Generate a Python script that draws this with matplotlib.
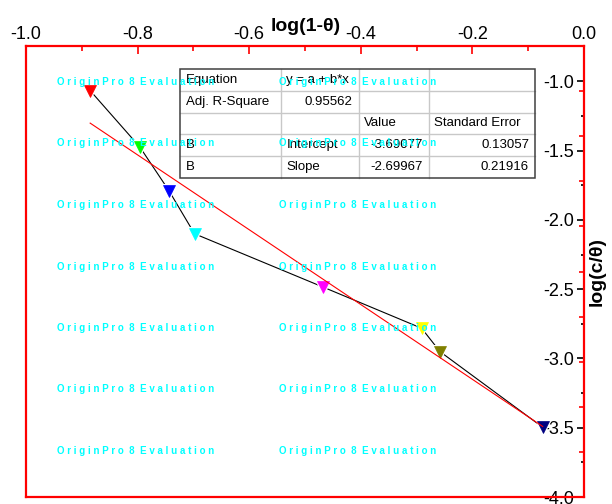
import numpy as np
import matplotlib
matplotlib.use("Agg")
import matplotlib.pyplot as plt
from matplotlib.patches import Rectangle
from matplotlib.lines import Line2D

plt.rcParams['font.family'] = ['Liberation Sans', 'DejaVu Sans']
plt.rcParams['axes.unicode_minus'] = False

# ---- data ----
x_vals = [-0.885, -0.796, -0.744, -0.698, -0.467, -0.291, -0.258, -0.074]
y_vals = [-1.067, -1.474, -1.788, -2.100, -2.486, -2.782, -2.951, -3.497]
pt_colors = ['#FF0000', '#00FF00', '#0000FF', '#00FFFF', '#FF00FF', '#FFFF00', '#808000', '#000080']
fit_a = -3.69077
fit_b = -2.69967
x_major = [-1.0, -0.8, -0.6, -0.4, -0.2, 0.0]
x_minor = [-0.9, -0.7, -0.5, -0.3, -0.1]
y_major = [-1.0, -1.5, -2.0, -2.5, -3.0, -3.5, -4.0]
y_minor = [-1.25, -1.75, -2.25, -2.75, -3.25, -3.75]
x_label = 'log(1-θ)'
y_label = 'log(c/θ)'
table_rows = [
    ['Equation', 'y = a + b*x', '', ''],
    ['Adj. R-Square', '0.95562', '', ''],
    ['', '', 'Value', 'Standard Error'],
    ['B', 'Intercept', '-3.69077', '0.13057'],
    ['B', 'Slope', '-2.69967', '0.21916'],
]
table_align = [
    ['left', 'left', 'left', 'left'],
    ['left', 'right', 'left', 'left'],
    ['left', 'left', 'left', 'left'],
    ['left', 'left', 'right', 'right'],
    ['left', 'left', 'right', 'right'],
]
watermark = 'O r i g i n P r o  8  E v a l u a t i o n'

W, H = 612, 504
fig = plt.figure(figsize=(W / 100, H / 100), dpi=100)
L, R, T, B = 26, 584, 46, 497
ax = fig.add_axes([L / W, 1 - B / H, (R - L) / W, (B - T) / H])

# secondary red ticks (frame layer)
ax2 = ax.twinx()
ax2.set_ylim(0, 1)
ax2.set_yticks(np.linspace(0.1, 0.9, 9))
ax2.tick_params(axis='y', direction='in', color='red', length=3.5, width=1.2,
                labelright=False, right=True)
for s in ax2.spines.values():
    s.set_visible(False)

# data
ax.plot(x_vals, y_vals, color='black', lw=0.8, zorder=2)
for xv, yv, c in zip(x_vals, y_vals, pt_colors):
    ax.plot([xv], [yv], marker='v', ms=9, color=c, mec='white', mew=2.2,
            linestyle='none', zorder=3)
    ax.plot([xv], [yv], marker='v', ms=9, color=c, mec=c, mew=0.5,
            linestyle='none', zorder=3.5)
fx = np.array([min(x_vals), max(x_vals)])
ax.plot(fx, fit_a + fit_b * fx, color='red', lw=0.8, zorder=4)

ax.set_xlim(-1.0, 0.0)
ax.set_ylim(-4.0, -0.745)

# x axis on top
ax.xaxis.tick_top()
ax.set_xticks(x_major)
ax.set_xticks(x_minor, minor=True)
ax.set_xticklabels(['%.1f' % v for v in x_major])
ax.tick_params(axis='x', which='major', direction='in', color='red', length=6,
               width=1.2, labelsize=13, pad=2.5, labelcolor='black')
ax.tick_params(axis='x', which='minor', direction='in', color='red', length=3.5,
               width=1.2)

# y axis on right, labels inside
ax.yaxis.tick_right()
ax.set_yticks(y_major)
ax.set_yticks(y_minor, minor=True)
ax.set_yticklabels(['%.1f' % v for v in y_major])
ax.tick_params(axis='y', which='major', direction='in', color='black', length=5,
               width=1.2, labelsize=13, pad=-7.0, left=False, right=True)
ax.tick_params(axis='y', which='minor', direction='in', color='black', length=2.5,
               width=1.2, left=False, right=True)
for lbl in ax.get_yticklabels():
    lbl.set_horizontalalignment('right')

for s in ax.spines.values():
    s.set_color('red')
    s.set_linewidth(1.6)

# axis titles
fig.text(306 / W, 1 - 31 / H, x_label, ha='center', va='baseline',
         fontsize=14, fontweight='bold')
fig.text(597 / W, 1 - 272 / H, y_label, ha='center', va='center', rotation=90,
         fontsize=14, fontweight='bold')

# table
tx0, ty0 = 180, 69
col_w = [101, 77.5, 70, 106.5]
row_h = 21.8
tw = sum(col_w)
th = row_h * len(table_rows)
fig.patches.append(Rectangle((tx0 / W, 1 - (ty0 + th) / H), tw / W, th / H,
                             transform=fig.transFigure, facecolor='white',
                             edgecolor='none', zorder=1))
cx = np.concatenate([[0], np.cumsum(col_w)]) + tx0
for xb in cx[1:-1]:
    fig.lines.append(Line2D([xb / W, xb / W], [1 - ty0 / H, 1 - (ty0 + th) / H],
                            transform=fig.transFigure, color='#c8c8c8', lw=1, zorder=1.5))
for i in range(1, len(table_rows)):
    yb = ty0 + i * row_h
    fig.lines.append(Line2D([tx0 / W, (tx0 + tw) / W], [1 - yb / H, 1 - yb / H],
                            transform=fig.transFigure, color='#c8c8c8', lw=1, zorder=1.5))
fig.patches.append(Rectangle((tx0 / W, 1 - (ty0 + th) / H), tw / W, th / H,
                             transform=fig.transFigure, facecolor='none',
                             edgecolor='#404040', lw=1.1, zorder=2))
for i, row in enumerate(table_rows):
    yc = ty0 + (i + 0.5) * row_h
    for j, txt in enumerate(row):
        if not txt:
            continue
        al = table_align[i][j]
        xp = cx[j] + 5.5 if al == 'left' else cx[j + 1] - 6
        fig.text(xp / W, 1 - yc / H, txt, ha=al, va='center', fontsize=9.5,
                 color='black', zorder=3)

# watermark
wm_rows = [82, 143.5, 205, 266.5, 328, 389.5, 451]
wm_cols = [57, 279]
for yy in wm_rows:
    for xx in wm_cols:
        fig.text(xx / W, 1 - yy / H, watermark, ha='left', va='center',
                 fontsize=7, fontweight='bold', color='#00FFFF', zorder=5)

fig.savefig('out.png', dpi=100)
